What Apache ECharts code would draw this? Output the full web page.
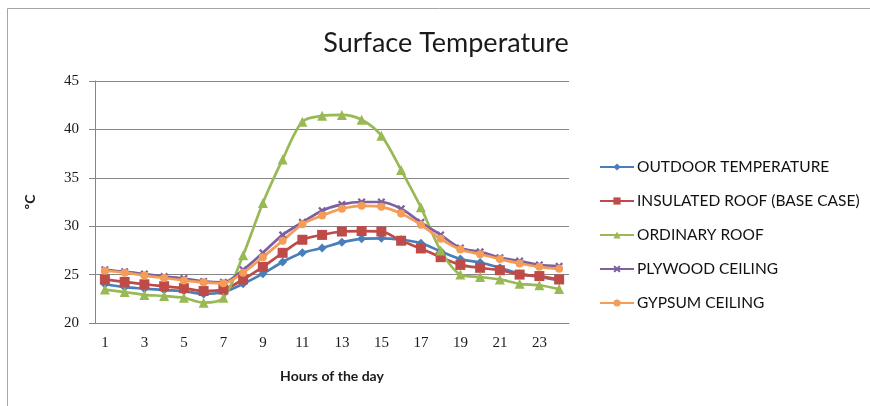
<!DOCTYPE html>
<html>
<head>
<meta charset="utf-8">
<script src="https://cdn.jsdelivr.net/npm/echarts@6/dist/echarts.min.js"></script>
<style>
  html, body { margin: 0; padding: 0; background: #fff; }
  #chart { width: 870px; height: 406px; }
</style>
</head>
<body>
<div id="chart"></div>
<script>
// hours 1..24
const hours = ['1','2','3','4','5','6','7','8','9','10','11','12','13','14','15','16','17','18','19','20','21','22','23','24'];

const outdoor   = [24.0, 23.7, 23.55, 23.4, 23.3, 23.0, 23.2, 24.05, 25.1, 26.3, 27.25, 27.75, 28.35, 28.7, 28.75, 28.6, 28.25, 27.4, 26.6, 26.25, 25.7, 25.1, 24.75, 24.4];
const insulated = [24.5, 24.25, 24.0, 23.8, 23.6, 23.3, 23.45, 24.5, 25.8, 27.25, 28.6, 29.1, 29.45, 29.5, 29.45, 28.5, 27.7, 26.8, 26.0, 25.7, 25.45, 25.0, 24.85, 24.5];
const ordinary  = [23.45, 23.2, 22.9, 22.8, 22.6, 22.1, 22.6, 27.0, 32.4, 36.9, 40.8, 41.4, 41.5, 41.0, 39.35, 35.8, 31.95, 27.5, 25.0, 24.75, 24.5, 24.05, 23.9, 23.5];
const plywood   = [25.5, 25.3, 25.05, 24.8, 24.6, 24.3, 24.2, 25.5, 27.25, 29.1, 30.4, 31.6, 32.25, 32.5, 32.5, 31.8, 30.4, 29.1, 27.75, 27.35, 26.75, 26.4, 26.0, 25.85];
const gypsum    = [25.4, 25.2, 24.9, 24.65, 24.4, 24.2, 24.1, 25.2, 26.8, 28.5, 30.2, 31.1, 31.8, 32.1, 32.0, 31.3, 30.15, 28.7, 27.6, 27.1, 26.6, 26.15, 25.8, 25.6];

const seriesNames = ['OUTDOOR TEMPERATURE', 'INSULATED ROOF (BASE CASE)', 'ORDINARY ROOF', 'PLYWOOD CEILING', 'GYPSUM CEILING'];

const xMark = 'path://M2,0L5,3L8,0L10,2L7,5L10,8L8,10L5,7L2,10L0,8L3,5L0,2Z';

function line(name, data, color, symbol, size) {
  return {
    name: name,
    type: 'line',
    data: data,
    smooth: 0.3,
    symbol: symbol,
    symbolSize: size,
    showAllSymbol: true,
    lineStyle: { color: color, width: 2.7 },
    itemStyle: { color: color, borderWidth: 0 },
    emphasis: { disabled: true }
  };
}

const chart = echarts.init(document.getElementById('chart'));
chart.setOption({
  animation: false,
  textStyle: { fontFamily: 'Lato' },
  title: {
    text: 'Surface Temperature',
    left: 441,
    textAlign: 'center',
    top: 25,
    textStyle: { fontFamily: 'Lato', fontSize: 27, fontWeight: 'normal', color: '#1a1a1a' }
  },
  graphic: [{
    type: 'rect',
    shape: { x: 7.5, y: 8.5, width: 900, height: 500 },
    style: { fill: 'none', stroke: '#a6a6a6', lineWidth: 1 },
    silent: true
  }],
  grid: { left: 95, right: 301, top: 81, bottom: 83 },
  legend: {
    orient: 'vertical',
    left: 594,
    top: 154,
    itemWidth: 34,
    itemHeight: 9,
    itemGap: 18,
    data: seriesNames,
    textStyle: { fontFamily: 'Lato', fontSize: 15.5, color: '#111', padding: [0, 0, 0, -2] }
  },
  xAxis: {
    type: 'category',
    data: hours,
    boundaryGap: true,
    name: 'Hours of the day',
    nameLocation: 'middle',
    nameGap: 46,
    nameTextStyle: { fontFamily: 'Lato', fontSize: 14, fontWeight: 'bold', color: '#1a1a1a' },
    axisLine: { lineStyle: { color: '#868686' } },
    axisTick: { interval: 1, length: 6, lineStyle: { color: '#868686' } },
    axisLabel: { interval: 1, margin: 13, fontFamily: 'Liberation Serif', fontSize: 15, color: '#1a1a1a' },
    splitLine: { show: false }
  },
  yAxis: {
    type: 'value',
    min: 20,
    max: 45,
    interval: 5,
    name: 'ºC',
    nameLocation: 'middle',
    nameRotate: 90,
    nameGap: 58,
    nameTextStyle: { fontFamily: 'Lato', fontSize: 14, fontWeight: 'bold', color: '#1a1a1a' },
    axisLine: { show: true, lineStyle: { color: '#868686' } },
    axisTick: { show: true, length: 6, lineStyle: { color: '#868686' } },
    axisLabel: { margin: 16, fontFamily: 'Liberation Serif', fontSize: 15, color: '#1a1a1a' },
    splitLine: { lineStyle: { color: '#868686', width: 1 } }
  },
  series: [
    line(seriesNames[0], outdoor, '#4A7EBB', 'diamond', 9),
    line(seriesNames[1], insulated, '#BE4B48', 'rect', 10),
    line(seriesNames[2], ordinary, '#98B954', 'triangle', 10),
    line(seriesNames[3], plywood, '#7D60A0', xMark, 8),
    line(seriesNames[4], gypsum, '#F59D56', 'circle', 8)
  ]
});
</script>
</body>
</html>
